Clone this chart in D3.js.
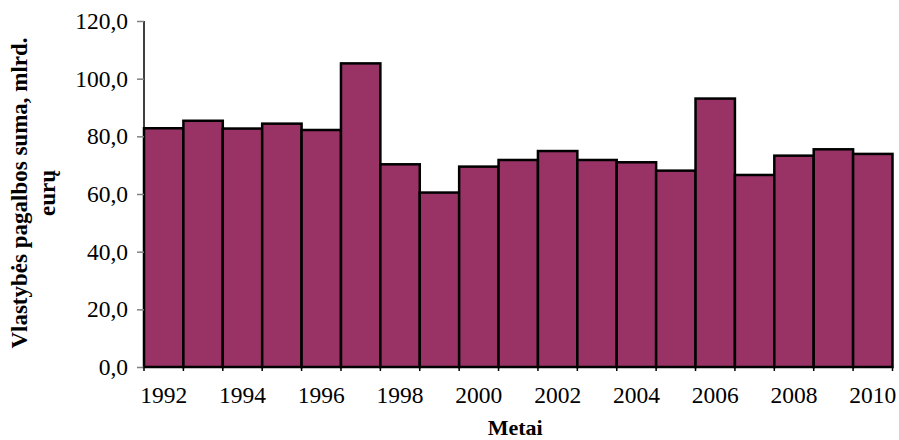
<!DOCTYPE html>
<html>
<head>
<meta charset="utf-8">
<script src="https://cdn.jsdelivr.net/npm/d3@7"></script>
<style>
  html, body { margin: 0; padding: 0; background: #fff; }
  svg { display: block; }
  text { font-family: "Liberation Serif", "Times New Roman", serif; fill: #000; }
</style>
</head>
<body>
<svg id="chart" width="899" height="440"></svg>
<script>
// State aid totals per year, billion euro
const years = [1992, 1993, 1994, 1995, 1996, 1997, 1998, 1999, 2000, 2001,
               2002, 2003, 2004, 2005, 2006, 2007, 2008, 2009, 2010];
const values = [82.8, 85.4, 82.7, 84.4, 82.2, 105.3, 70.3, 60.5, 69.5, 71.8,
                74.9, 71.8, 71.0, 68.1, 93.1, 66.6, 73.3, 75.5, 73.9];
const yTicks = [0, 20, 40, 60, 80, 100, 120];
const xLabelYears = [1992, 1994, 1996, 1998, 2000, 2002, 2004, 2006, 2008, 2010];

const svg = d3.select("#chart");
const plotLeft = 144, plotRight = 892.5, plotTop = 21, plotBottom = 367;
const fontSize = "23.5px";

const x = d3.scaleBand().domain(years).range([plotLeft, plotRight]).paddingInner(0).paddingOuter(0);
const y = d3.scaleLinear().domain([0, 120]).range([plotBottom, plotTop]);

const fmt = v => d3.format(".1f")(v).replace(".", ",");

// Bars
svg.append("g")
  .selectAll("rect")
  .data(years.map((yr, i) => ({ yr, v: values[i] })))
  .join("rect")
  .attr("x", d => x(d.yr))
  .attr("y", d => y(d.v))
  .attr("width", x.bandwidth())
  .attr("height", d => y(0) - y(d.v))
  .attr("fill", "#993366")
  .attr("stroke", "#000")
  .attr("stroke-width", 2.5);

// Y axis
const yAxis = svg.append("g")
  .attr("transform", `translate(${plotLeft},0)`)
  .call(d3.axisLeft(y).tickValues(yTicks).tickFormat(fmt).tickSize(7).tickPadding(9));
yAxis.select(".domain").attr("stroke", "#000").attr("stroke-width", 1.5).attr("d", `M0,${plotTop}V${plotBottom}`);
yAxis.selectAll(".tick line").attr("stroke", "#808080").attr("stroke-width", 1.5);
yAxis.selectAll(".tick text")
  .style("font-family", "'Liberation Serif', 'Times New Roman', serif")
  .style("font-size", fontSize)
  .attr("fill", "#000");

// X axis: ticks between categories, labels on every other year
const xAxis = svg.append("g")
  .attr("transform", `translate(0,${plotBottom})`);
xAxis.append("line")
  .attr("x1", plotLeft).attr("x2", plotRight)
  .attr("stroke", "#000").attr("stroke-width", 2);
xAxis.selectAll("line.sep")
  .data(d3.range(years.length + 1))
  .join("line")
  .attr("class", "sep")
  .attr("x1", i => plotLeft + i * x.step())
  .attr("x2", i => plotLeft + i * x.step())
  .attr("y1", 0).attr("y2", 4)
  .attr("stroke", "#000").attr("stroke-width", 1.5);
xAxis.selectAll("text")
  .data(xLabelYears)
  .join("text")
  .attr("x", d => x(d) + x.bandwidth() / 2)
  .attr("y", 36)
  .attr("text-anchor", "middle")
  .style("font-size", fontSize)
  .text(d => d);

// Axis titles
svg.append("text")
  .attr("x", (plotLeft + plotRight) / 2 - 3)
  .attr("y", 435)
  .attr("text-anchor", "middle")
  .style("font-size", "22px")
  .style("font-weight", "bold")
  .text("Metai");

const yTitle = svg.append("text")
  .attr("transform", "translate(27,193) rotate(-90)")
  .attr("text-anchor", "middle")
  .style("font-size", "23px")
  .style("font-weight", "bold");
yTitle.append("tspan").attr("x", 0).attr("y", 0).text("Vlastybės pagalbos suma, mlrd.");
yTitle.append("tspan").attr("x", 0).attr("y", 28).text("eurų");
</script>
</body>
</html>
